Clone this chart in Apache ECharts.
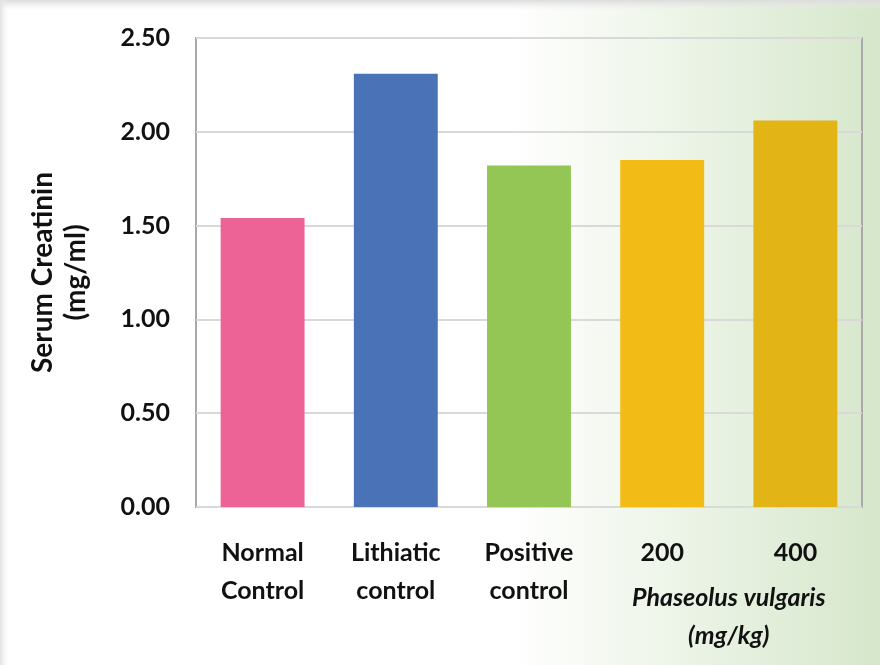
<!DOCTYPE html>
<html>
<head>
<meta charset="utf-8">
<script src="https://cdn.jsdelivr.net/npm/echarts@6/dist/echarts.min.js"></script>
<style>
  html, body { margin: 0; padding: 0; }
  #chart { width: 880px; height: 665px; }
</style>
</head>
<body>
<div id="chart"></div>
<script>
// data
var categories = ['Normal\nControl', 'Lithiatic\ncontrol', 'Positive\ncontrol', '200', '400'];
var creatinin = [1.54, 2.31, 1.82, 1.85, 2.06];
var barColors = ['#EE6396', '#4A72B7', '#93C655', '#F2BB15', '#E2B416'];
var yTicks = [0, 0.5, 1, 1.5, 2, 2.5];

var font = 'Lato, "Open Sans", sans-serif';
var chart = echarts.init(document.getElementById('chart'));

var option = {
  backgroundColor: new echarts.graphic.LinearGradient(0, 0, 1, 0, [
    { offset: 0, color: '#ffffff' },
    { offset: 0.58, color: '#ffffff' },
    { offset: 1, color: '#d6e7cb' }
  ]),
  animation: false,
  grid: {
    left: 196, right: 18, top: 38, bottom: 158,
    show: true,
    borderColor: '#a9a9a9',
    borderWidth: 2
  },
  xAxis: {
    type: 'category',
    data: categories,
    axisLine: { show: false },
    axisTick: { show: false },
    axisLabel: {
      margin: 27,
      fontFamily: font,
      fontWeight: 'bold',
      fontSize: 25,
      lineHeight: 38,
      color: '#111'
    }
  },
  yAxis: {
    type: 'value',
    min: yTicks[0],
    max: yTicks[yTicks.length - 1],
    interval: 0.5,
    name: 'Serum Creatinin\n(mg/ml)',
    nameLocation: 'middle',
    nameRotate: 90,
    nameGap: 104,
    nameTextStyle: {
      fontFamily: font,
      fontWeight: 'bold',
      fontSize: 28,
      lineHeight: 33,
      color: '#111'
    },
    axisLine: { show: false },
    axisTick: { show: false },
    splitLine: { lineStyle: { color: '#d9d9d9', width: 2 } },
    axisLabel: {
      margin: 26,
      fontFamily: font,
      fontWeight: 'bold',
      fontSize: 25,
      color: '#111',
      formatter: function (v) { return v.toFixed(2); }
    }
  },
  series: [{
    type: 'bar',
    barWidth: '63%',
    data: creatinin.map(function (v, i) {
      return { value: v, itemStyle: { color: barColors[i] } };
    })
  }]
};
chart.setOption(option);

// slide-like grey shading on the top and left edges + dose group caption
var p3 = chart.convertToPixel({ xAxisIndex: 0 }, 3);
var p4 = chart.convertToPixel({ xAxisIndex: 0 }, 4);
var mid = (p3 + p4) / 2;
chart.setOption({
  graphic: [
    {
      type: 'rect', left: 0, top: 0, z: -1,
      shape: { width: 880, height: 10 },
      style: {
        fill: new echarts.graphic.LinearGradient(0, 0, 0, 1, [
          { offset: 0, color: '#dcdcdc' },
          { offset: 1, color: 'rgba(235,235,235,0)' }
        ])
      }
    },
    {
      type: 'rect', left: 0, top: 0, z: -1,
      shape: { width: 8, height: 665 },
      style: {
        fill: new echarts.graphic.LinearGradient(0, 0, 1, 0, [
          { offset: 0, color: '#e2e2e2' },
          { offset: 1, color: 'rgba(240,240,240,0)' }
        ])
      }
    },
    {
      type: 'text',
      x: mid, y: 579,
      style: {
        text: 'Phaseolus vulgaris\n(mg/kg)',
        align: 'center',
        verticalAlign: 'top',
        font: 'italic bold 25px ' + font,
        lineHeight: 38,
        fill: '#111'
      }
    }
  ]
});
</script>
</body>
</html>
